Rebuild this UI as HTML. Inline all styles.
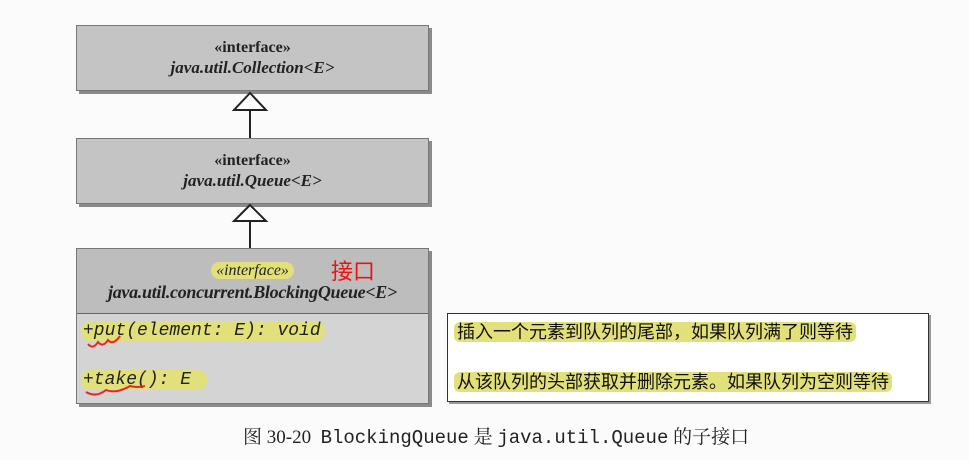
<!DOCTYPE html>
<html><head><meta charset="utf-8"><style>
body{margin:0;width:969px;height:460px;background:#fbfbfb;position:relative;overflow:hidden;font-family:"Liberation Serif","Noto Serif CJK SC",serif}
.box{position:absolute;background:#c4c4c4;border:1px solid #777;box-shadow:3px 3px 0 #8a8a8a;text-align:center;color:#222}
.st{font-weight:bold;font-size:16px;line-height:20px}
.nm{font-weight:bold;font-style:italic;font-size:17px;line-height:20px}
.hl{background:#e2e07a;border-radius:9px;padding:0 5px}
.mono{font-family:"Liberation Mono","DejaVu Sans Mono",monospace;font-style:italic;font-size:18px;position:absolute;color:#222}
.cn{font-family:"Liberation Sans","Noto Sans CJK SC",sans-serif;font-size:18px;position:absolute;color:#111;white-space:nowrap}
</style></head><body>
<div class="box" style="left:76px;top:25px;width:351px;height:64px">
 <div class="st" style="margin-top:12px">«interface»</div><div class="nm">java.util.Collection&lt;E&gt;</div></div>
<div class="box" style="left:76px;top:138px;width:351px;height:64px">
 <div class="st" style="margin-top:12px">«interface»</div><div class="nm">java.util.Queue&lt;E&gt;</div></div>
<div class="box" style="left:76px;top:248px;width:351px;height:154px;background:#d4d4d4">
 <div style="background:#bdbdbd;height:64px;border-bottom:1px solid #666">
 <div style="padding-top:12px;font-style:italic;font-size:16px;line-height:20px"><span class="hl">«interface»</span></div>
 <div style="font-style:italic;font-size:18px;line-height:22px;font-weight:bold;letter-spacing:-0.3px">java.util.concurrent.BlockingQueue&lt;E&gt;</div></div>
 <div class="mono" style="left:4px;top:72px"><span class="hl" style="padding:0 4px 0 2px">+put(element: E): void</span></div>
 <div class="mono" style="left:4px;top:121px"><span class="hl" style="padding:0 16px 0 2px">+take(): E</span></div>
</div>
<svg style="position:absolute;left:0;top:0" width="969" height="460">
 <polygon points="250,93 234,110 266,110" fill="#fff" stroke="#222" stroke-width="2"/>
 <line x1="250" y1="110" x2="250" y2="138" stroke="#222" stroke-width="2"/>
 <polygon points="250,205 234,221 266,221" fill="#fff" stroke="#222" stroke-width="2"/>
 <line x1="250" y1="221" x2="250" y2="248" stroke="#222" stroke-width="2"/>
 <path d="M88,344 q5,6 10,-2 q5,6 10,-2 q5,6 12,-4" stroke="#e22" stroke-width="2" fill="none"/>
 <path d="M86,392 q10,6 20,-2 q10,4 24,-4 q8,2 15,0" stroke="#e22" stroke-width="2" fill="none"/>
</svg>
<div style="position:absolute;left:331px;top:254px;color:#e11;font-size:22px;font-family:'Noto Sans CJK SC',sans-serif">接口</div>
<div style="position:absolute;left:447px;top:313px;width:480px;height:87px;background:#fff;border:1px solid #333;box-shadow:2px 2px 0 #999">
 <div class="cn" style="left:6px;top:4px"><span class="hl" style="border-radius:6px;padding:0 3px">插入一个元素到队列的尾部，如果队列满了则等待</span></div>
 <div class="cn" style="left:6px;top:54px"><span class="hl" style="border-radius:6px;padding:0 3px">从该队列的头部获取并删除元素。如果队列为空则等待</span></div>
</div>
<div style="position:absolute;left:243px;top:422px;font-size:19px;color:#222;white-space:nowrap">图 30-20&nbsp;&nbsp;<span style="font-family:'Liberation Mono',monospace">BlockingQueue</span> 是 <span style="font-family:'Liberation Mono',monospace">java.util.Queue</span> 的子接口</div>
</body></html>
